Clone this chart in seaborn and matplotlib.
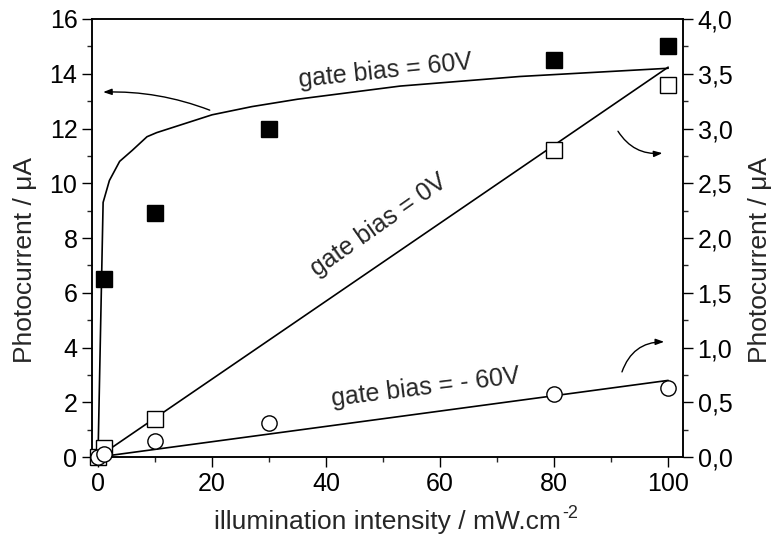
import matplotlib
matplotlib.use("Agg")
import matplotlib.pyplot as plt
import seaborn as sns
import pandas as pd
from matplotlib.ticker import MultipleLocator, FuncFormatter

sns.set_style("ticks")
plt.rcParams['font.family'] = ['Liberation Sans', 'DejaVu Sans']
plt.rcParams['axes.unicode_minus'] = False

# measured points
x_pos = [1, 10, 30, 80, 100]
i_pos = [6.5, 8.9, 12.0, 14.5, 15.0]           # gate bias = 60V (left axis, uA)
x_zero = [0, 1, 10, 80, 100]
i_zero = [0.0, 0.08, 0.35, 2.80, 3.40]         # gate bias = 0V (right axis, uA)
x_neg = [0, 1, 10, 30, 80, 100]
i_neg = [0.0, 0.03, 0.15, 0.31, 0.58, 0.63]    # gate bias = -60V (right axis, uA)

# fitted curves
fit_pos_x = [0, 0.9, 2, 3.8, 6, 8.6, 10.3, 20, 27, 35, 53, 74, 100]
fit_pos_y = [0, 9.3, 10.1, 10.8, 11.2, 11.7, 11.85, 12.5, 12.8, 13.07, 13.55, 13.9, 14.2]
fit_lin_x = [0, 100]
fit_zero_y = [0, 3.56]
fit_neg_y = [0, 0.70]

fig = plt.figure(figsize=(7.77, 5.52), dpi=100)
ax = fig.add_axes([0.1184, 0.172, 0.7606, 0.7936])
ax2 = ax.twinx()

lw = 1.2
sns.lineplot(x=fit_pos_x, y=fit_pos_y, ax=ax, color='black', lw=lw, sort=False, estimator=None)
ax.plot(x_pos, i_pos, ls='none', marker='s', ms=11.5, mfc='black', mec='black', clip_on=False, zorder=5)

sns.lineplot(x=fit_lin_x, y=fit_zero_y, ax=ax2, color='black', lw=lw, sort=False, estimator=None)
sns.lineplot(x=fit_lin_x, y=fit_neg_y, ax=ax2, color='black', lw=lw, sort=False, estimator=None)
ax2.plot(x_zero, i_zero, ls='none', marker='s', ms=11.5, mfc='white', mec='black', mew=1.0, clip_on=False, zorder=5)
ax2.plot(x_neg, i_neg, ls='none', marker='o', ms=11, mfc='white', mec='black', mew=1.0, clip_on=False, zorder=6)

ax.set_xlim(-1.05, 102.6)
ax.set_ylim(0, 16)
ax2.set_ylim(0, 4)

ax.xaxis.set_major_locator(MultipleLocator(20))
ax.xaxis.set_minor_locator(MultipleLocator(10))
ax.yaxis.set_major_locator(MultipleLocator(2))
ax.yaxis.set_minor_locator(MultipleLocator(1))
ax2.yaxis.set_major_locator(MultipleLocator(0.5))
ax2.yaxis.set_minor_locator(MultipleLocator(0.25))
ax2.yaxis.set_major_formatter(FuncFormatter(lambda v, p: f"{v:.1f}".replace('.', ',')))

for a in (ax, ax2):
    a.tick_params(which='major', direction='out', length=7, width=1, labelsize=18, colors='black')
    a.tick_params(which='minor', direction='out', length=3.6, width=1)
    for s in a.spines.values():
        s.set_visible(True)
        s.set_linewidth(1.1)
        s.set_color('black')
ax.tick_params(top=False, right=False, which='both')
ax2.tick_params(left=False, which='both')

xl = ax.set_xlabel('illumination intensity / mW.cm', fontsize=19, labelpad=10)
ax.set_ylabel('Photocurrent / μA', fontsize=19)
ax2.set_ylabel('Photocurrent / μA', fontsize=19)
ax.yaxis.set_label_coords(-0.093, 0.45)
ax2.yaxis.set_label_coords(1.11, 0.45)

ax.text(50.4, 14.1, 'gate bias = 60V', fontsize=18, rotation=6, ha='center', va='center')
ax.text(49.3, 8.46, 'gate bias = 0V', fontsize=18, rotation=35, ha='center', va='center', rotation_mode='anchor')
ax.text(57.4, 2.53, 'gate bias = - 60V', fontsize=18, rotation=7, ha='center', va='center', rotation_mode='anchor')

akw = dict(arrowstyle='-|>,head_length=0.5,head_width=0.18', color='black', lw=1.0, shrinkA=0, shrinkB=0)
ax.annotate('', xy=(0.9, 13.33), xytext=(19.6, 12.67),
            arrowprops=dict(connectionstyle='arc3,rad=0.1', **akw))
ax.annotate('', xy=(99.0, 11.1), xytext=(91.2, 11.9),
            arrowprops=dict(connectionstyle='arc3,rad=0.3', **akw))
ax.annotate('', xy=(99.3, 4.21), xytext=(91.9, 3.11),
            arrowprops=dict(connectionstyle='arc3,rad=-0.35', **akw))

# superscript "-2" after the x label
fig.canvas.draw()
bb = xl.get_window_extent()
W, H = fig.bbox.width, fig.bbox.height
fig.text((bb.x1 + 1) / W, (bb.y1 - 3.5) / H, '-2', fontsize=13, ha='left', va='center')

fig.savefig('out.png', dpi=100)
